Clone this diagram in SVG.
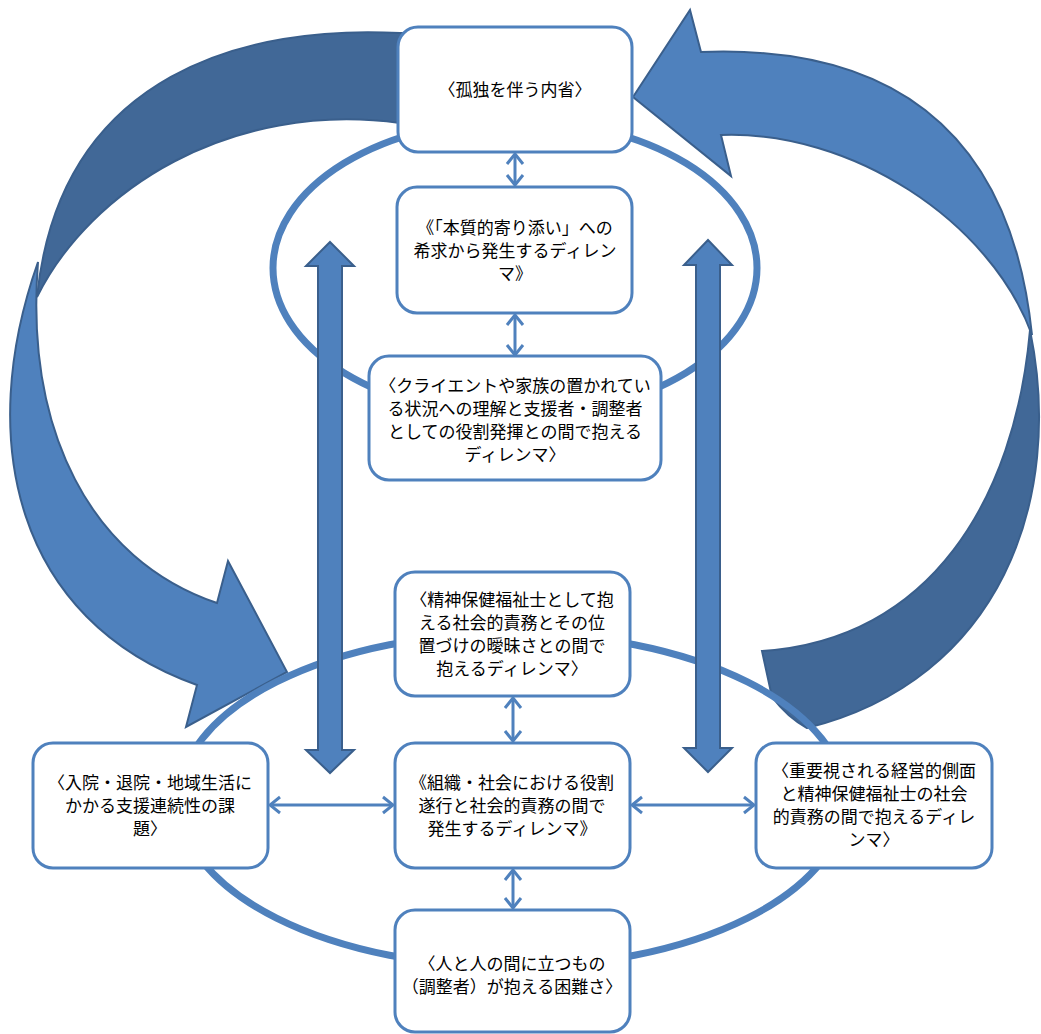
<svg xmlns="http://www.w3.org/2000/svg" width="1041" height="1034" viewBox="0 0 1041 1034">
<defs>
<style>
.box{fill:#fff;stroke:#4F81BD;stroke-width:3}
.ell{fill:none;stroke:#4F81BD;stroke-width:7}
.big{fill:#4F81BD;stroke:#3A5F8C;stroke-width:2;stroke-linejoin:miter}
.dark{fill:#416897;stroke:#3A5F8C;stroke-width:2}
.con{fill:none;stroke:#4F81BD;stroke-width:3;marker-start:url(#ah);marker-end:url(#ah)}
text{font-family:"Noto Sans CJK JP","Noto Sans CJK SC",sans-serif;font-size:17px;fill:#000;text-anchor:middle}
</style>
<marker id="ah" markerUnits="userSpaceOnUse" viewBox="-12 -10 14 20" refX="0" refY="0" markerWidth="14" markerHeight="20" orient="auto-start-reverse">
<path d="M-10,-8 L0,0 L-10,8" fill="none" stroke="#4F81BD" stroke-width="3"/>
</marker>
</defs>

<g id="curved-arrows">
<path class="dark" d="M420,33 L400,33 C250,25 60,70 37,297 C90,190 230,100 400,123 L420,123 Z"/>
<path class="big" d="M38,262 C-25,440 15,620 197,685 L186,727 L287,672 L228,561 L217,603 C90,560 25,430 38,262 Z"/>
<path class="big" d="M1032,335 C1010,120 880,45 701,52 L690,10 L633,97 L731,176 L721,135 C850,130 990,220 1032,335 Z"/>
<path class="dark" d="M1030,330 C1065,500 1000,680 807,728 Q788,718 772,697 L762,651 C930,640 1015,500 1030,330 Z"/>
</g>

<g id="ellipses">
<ellipse class="ell" cx="515" cy="268" rx="242" ry="148"/>
<ellipse class="ell" cx="512" cy="800" rx="333" ry="167"/>
</g>

<g id="block-arrows">
<polygon class="big" points="330,242 354,266 342,266 342,750 354,750 330,773 306,750 318,750 318,266 306,266"/>
<polygon class="big" points="708,240 732,265 720,265 720,748 732,748 708,772 684,748 696,748 696,265 684,265"/>
</g>

<g id="connectors">
<line class="con" x1="515" y1="154" x2="515" y2="185"/>
<line class="con" x1="515" y1="315" x2="515" y2="355"/>
<line class="con" x1="513" y1="698" x2="513" y2="741"/>
<line class="con" x1="513" y1="870" x2="513" y2="908"/>
<line class="con" x1="270" y1="805" x2="393" y2="805"/>
<line class="con" x1="632" y1="805" x2="754" y2="805"/>
</g>

<g id="n1">
<rect class="box" x="398" y="27" width="234" height="125" rx="20"/>
<text x="515" y="96">〈孤独を伴う内省〉</text>
</g>
<g id="n2">
<rect class="box" x="397" y="187" width="235" height="126" rx="20"/>
<text x="515" y="234">《「本質的寄り添い」への</text>
<text x="515" y="257">希求から発生するディレン</text>
<text x="515" y="280">マ》</text>
</g>
<g id="n3">
<rect class="box" x="369" y="356" width="292" height="124" rx="20"/>
<text x="515" y="392">〈クライエントや家族の置かれてい</text>
<text x="515" y="415">る状況への理解と支援者・調整者</text>
<text x="515" y="438">としての役割発揮との間で抱える</text>
<text x="515" y="461">ディレンマ〉</text>
</g>
<g id="n4">
<rect class="box" x="395" y="572" width="235" height="124" rx="20"/>
<text x="512" y="606">〈精神保健福祉士として抱</text>
<text x="512" y="629">える社会的責務とその位</text>
<text x="512" y="652">置づけの曖昧さとの間で</text>
<text x="512" y="675">抱えるディレンマ〉</text>
</g>
<g id="n5">
<rect class="box" x="395" y="743" width="235" height="125" rx="20"/>
<text x="512" y="789">《組織・社会における役割</text>
<text x="512" y="812">遂行と社会的責務の間で</text>
<text x="512" y="835">発生するディレンマ》</text>
</g>
<g id="n6">
<rect class="box" x="33" y="743" width="235" height="125" rx="20"/>
<text x="150" y="789">〈入院・退院・地域生活に</text>
<text x="150" y="812">かかる支援連続性の課</text>
<text x="150" y="835">題〉</text>
</g>
<g id="n7">
<rect class="box" x="756" y="743" width="236" height="125" rx="20"/>
<text x="874" y="777">〈重要視される経営的側面</text>
<text x="874" y="800">と精神保健福祉士の社会</text>
<text x="874" y="823">的責務の間で抱えるディレ</text>
<text x="874" y="846">ンマ〉</text>
</g>
<g id="n8">
<rect class="box" x="395" y="910" width="235" height="122" rx="20"/>
<text x="512" y="970">〈人と人の間に立つもの</text>
<text x="512" y="993">（調整者）が抱える困難さ〉</text>
</g>
</svg>
